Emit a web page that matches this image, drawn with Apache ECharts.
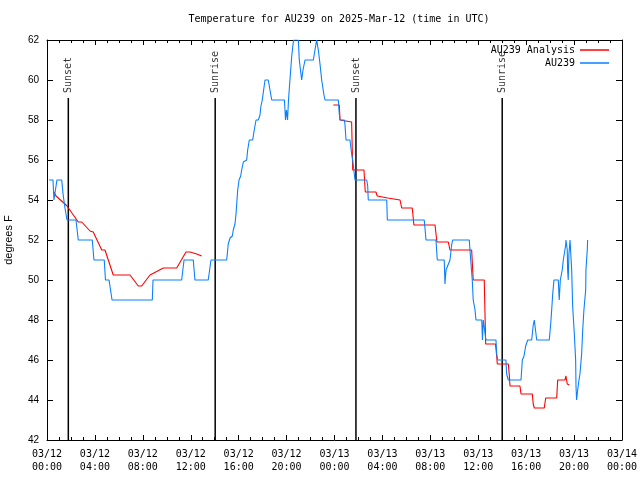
<!DOCTYPE html>
<html>
<head>
<meta charset="utf-8">
<script src="https://cdn.jsdelivr.net/npm/echarts@6/dist/echarts.min.js"></script>
<style>html,body{margin:0;padding:0;background:#fff}#c{width:640px;height:480px}</style>
</head>
<body>
<div id="c"></div>
<script>
// Hours since 2025-03-12 00:00 UTC
const blueT = [0.17,0.50,0.58,0.67,0.83,1.23,1.34,1.50,1.67,2.42,2.61,3.78,3.92,4.78,4.88,5.18,5.43,8.79,8.85,11.24,11.44,12.21,12.35,13.46,13.69,15.00,15.13,15.28,15.47,15.55,15.69,15.78,15.86,15.92,16.03,16.17,16.25,16.39,16.47,16.67,16.75,16.89,17.17,17.30,17.45,17.64,17.78,17.86,17.97,18.20,18.47,18.76,19.82,19.91,19.99,20.08,20.16,20.28,20.43,20.58,20.98,21.06,21.16,21.26,21.37,21.54,22.23,22.37,22.51,22.58,22.65,22.79,22.93,23.12,23.21,24.32,24.40,24.46,24.82,24.87,24.96,25.29,25.43,25.52,25.65,25.71,26.69,26.77,26.82,28.36,28.41,31.49,31.64,32.47,32.58,33.16,33.22,33.31,33.64,33.78,33.86,35.25,35.37,35.50,35.58,35.73,35.81,36.29,36.35,36.42,36.56,36.64,37.48,37.54,37.62,38.31,38.37,38.51,39.57,39.68,39.82,39.96,40.13,40.46,40.59,40.68,40.78,40.88,41.93,42.04,42.13,42.21,42.32,42.68,42.76,42.85,43.01,43.10,43.18,43.30,43.32,43.43,43.46,43.51,43.57,43.66,43.80,43.88,44.02,44.13,44.16,44.21,44.30,44.41,44.49,44.63,44.72,44.82,44.97,44.99,45.10,45.13];
const blueV = [55,55,54,54,55,55,54.3,53.6,53,53,52,52,51,51,50,50,49,49,50,50,51,51,50,50,51,51,51.8,52.1,52.2,52.5,52.8,53.3,54,54.5,55,55.2,55.5,55.9,56,56,56.5,57,57,57.5,58,58,58.25,58.7,59,60,60,59,59,58,58.5,58,59,60,61.2,62,62,61,60.5,60,60.5,61,61,61.5,62,62,61.5,60.8,60,59.25,59,59,58.3,58,58,57.8,57,57,56.3,56,56,55,55,54.7,54,54,53,53,52,52,51,51,49.8,50.5,51,51.75,52,52,51,50,49,48.5,48,48,47,48,48,47,47,46.3,46,46,45.3,45,45,46,46.2,46.7,47,47,47.75,48,47.5,47,47,47.75,48.5,49.25,50,50,49,50,50.5,51,51.3,51.75,52,51.5,50.5,50,51.3,52,50.5,48.7,47.3,46,44.7,44,44.5,45,45.3,46.3,47.5,48.5,49.5,50.5,51.5,52];

const redT1 = [0.58,0.75,1.50,1.67,2.61,2.90,3.59,3.86,4.57,4.84,5.53,6.93,7.62,7.90,8.60,8.76,9.71,10.83,11.60,11.94,12.50,12.91];
const redV1 = [54.4,54.2,53.8,53.7,52.9,52.9,52.45,52.4,51.5,51.5,50.25,50.25,49.7,49.7,50.25,50.3,50.6,50.6,51.4,51.4,51.3,51.2];
const redT2 = [23.90,24.40,24.46,24.60,25.43,25.52,26.46,26.57,27.46,27.57,28.44,28.57,29.47,29.61,30.49,30.63,32.39,32.55,33.50,33.64,35.45,35.58,36.50,36.62,37.44,37.54,37.59,38.51,38.59,38.65,39.48,39.57,40.51,40.59,40.68,41.51,41.63,42.55,42.63,43.24,43.32,43.43,43.60];
const redV2 = [58.75,58.75,58,57.9,57.9,55.5,55.5,54.4,54.4,54.2,54.1,54.0,54,53.6,53.6,52.75,52.75,51.9,51.9,51.5,51.5,50,50,46.8,46.8,46.2,45.8,45.8,45.25,44.7,44.7,44.3,44.3,43.8,43.6,43.6,44.1,44.1,45.0,45.0,45.2,44.8,44.75];

const eventNames = ['Sunset','Sunrise','Sunset','Sunrise'];
const eventTimes = [1.78, 14.04, 25.79, 38.0];
const eventLineTop = 59.1;
const eventLabelAt = 59.35;

const xTickLabels = ['03/12\n00:00','03/12\n04:00','03/12\n08:00','03/12\n12:00','03/12\n16:00','03/12\n20:00','03/13\n00:00','03/13\n04:00','03/13\n08:00','03/13\n12:00','03/13\n16:00','03/13\n20:00','03/14\n00:00'];

const zip = (a, b) => a.map((t, i) => [t, b[i]]);
const mono = 'DejaVu Sans Mono';
const sans = 'Liberation Sans';
const BLUE = '#0a80ff', RED = '#ff0000';

const series = [];
eventTimes.forEach((t, i) => {
  series.push({
    type: 'line', name: 'ev' + i, data: [[t, 42], [t, eventLineTop]],
    symbol: 'none', lineStyle: { color: '#000', width: 1.5 }, silent: true, z: 1
  });
});
series.push({
  type: 'scatter', name: 'evlabels',
  data: eventTimes.map((t, i) => [t, eventLabelAt, eventNames[i]]),
  symbolSize: 1, itemStyle: { color: 'rgba(0,0,0,0)' }, silent: true,
  label: { show: true, position: 'inside', rotate: 90, align: 'left', verticalAlign: 'middle',
    formatter: p => p.data[2], color: '#000', fontFamily: mono, fontSize: 10 }
});
series.push({ type: 'line', name: 'AU239 Analysis', data: zip(redT1, redV1), symbol: 'none', lineStyle: { color: RED, width: 1.1 }, itemStyle: { color: RED }, z: 3 });
series.push({ type: 'line', name: 'AU239 Analysis', data: zip(redT2, redV2), symbol: 'none', lineStyle: { color: RED, width: 1.1 }, itemStyle: { color: RED }, z: 3 });
series.push({ type: 'line', name: 'AU239', data: zip(blueT, blueV), symbol: 'none', lineStyle: { color: BLUE, width: 1.1 }, itemStyle: { color: BLUE }, z: 4 });

const xCommon = {
  type: 'value', min: 0, max: 48, interval: 4,
  axisLine: { show: true, onZero: false, lineStyle: { color: '#000', width: 1 } },
  axisTick: { show: true, inside: true, length: 5, lineStyle: { color: '#000' } },
  minorTick: { show: true, splitNumber: 4, length: 3, lineStyle: { color: '#000' } },
  splitLine: { show: false }
};
const yCommon = {
  type: 'value', min: 42, max: 62, interval: 2,
  axisLine: { show: true, onZero: false, lineStyle: { color: '#000', width: 1 } },
  axisTick: { show: true, inside: true, length: 6, lineStyle: { color: '#000' } },
  splitLine: { show: false }
};

const chart = echarts.init(document.getElementById('c'), null, { renderer: 'canvas' });
chart.setOption({
  animation: false,
  backgroundColor: '#fff',
  title: {
    text: 'Temperature for AU239 on 2025-Mar-12 (time in UTC)',
    left: 334, top: 9, textAlign: 'center',
    textStyle: { fontFamily: mono, fontSize: 10, fontWeight: 'normal', color: '#000' }
  },
  legend: {
    data: [{ name: 'AU239 Analysis', icon: 'rect' }, { name: 'AU239', icon: 'rect' }],
    orient: 'vertical', right: 26, top: 39,
    align: 'right', itemWidth: 29, itemHeight: 1.5, itemGap: 1,
    textStyle: { fontFamily: mono, fontSize: 10, color: '#000', lineHeight: 12 }, selectedMode: false
  },
  grid: { left: 47, right: 18, top: 40, bottom: 40, outerBoundsMode: 'none', containLabel: false },
  xAxis: [
    Object.assign({}, xCommon, {
      position: 'bottom',
      axisLabel: { show: true, margin: 8, lineHeight: 13, fontFamily: mono, fontSize: 10, color: '#000',
        formatter: v => xTickLabels[Math.round(v / 4)] }
    }),
    Object.assign({}, xCommon, { position: 'top', axisLabel: { show: false } })
  ],
  yAxis: [
    Object.assign({}, yCommon, {
      position: 'left', name: 'degrees F', nameLocation: 'middle', nameGap: 33, nameRotate: 90,
      nameTextStyle: { fontFamily: sans, fontSize: 11, color: '#000' },
      axisLabel: { show: true, margin: 8, fontFamily: sans, fontSize: 10, color: '#000' }
    }),
    Object.assign({}, yCommon, { position: 'right', axisLabel: { show: false } })
  ],
  series: series
});
</script>
</body>
</html>
